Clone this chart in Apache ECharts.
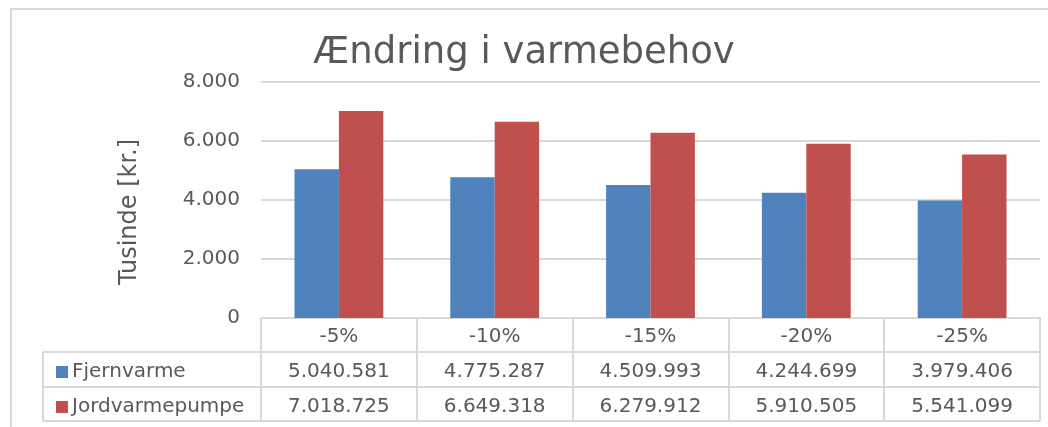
<!DOCTYPE html>
<html>
<head>
<meta charset="utf-8">
<script src="https://cdn.jsdelivr.net/npm/echarts@6/dist/echarts.min.js"></script>
<style>
  html, body { margin: 0; padding: 0; background: #fff; }
  #chart { width: 1048px; height: 427px; }
</style>
</head>
<body>
<div id="chart"></div>
<script>
// data (kr.)
const categories = ['-5%', '-10%', '-15%', '-20%', '-25%']
const fjernvarme = [5040581, 4775287, 4509993, 4244699, 3979406]
const jordvarmepumpe = [7018725, 6649318, 6279912, 5910505, 5541099]
const seriesNames = ['Fjernvarme', 'Jordvarmepumpe']

const textColor = '#595959'
const lineColor = '#D9D9D9'
const font = 'DejaVu Sans'

// danish thousands separator
function fmt(v) {
  return String(Math.round(v)).replace(/\B(?=(\d{3})+(?!\d))/g, '.')
}

const chart = echarts.init(document.getElementById('chart'))

const option = {
  animation: false,
  textStyle: { fontFamily: font },
  title: {
    text: 'Ændring i varmebehov',
    left: 'center',
    top: 30,
    textStyle: { fontFamily: font, fontSize: 37, fontWeight: 'normal', color: textColor }
  },
  legend: {
    orient: 'vertical',
    left: 51,
    top: 357,
    itemWidth: 12,
    itemHeight: 12,
    itemGap: 15,
    icon: 'rect',
    data: seriesNames,
    textStyle: { fontFamily: font, fontSize: 20, lineHeight: 20, color: textColor, padding: [0, 0, 0, -1] },
    selectedMode: false
  },
  grid: {
    left: 261,
    right: 8,
    top: 82,
    bottom: 109
  },
  xAxis: {
    type: 'category',
    data: categories,
    axisLine: { show: true, lineStyle: { color: lineColor, width: 2 } },
    axisTick: { show: true, interval: 0, length: 103, lineStyle: { color: lineColor, width: 2 } },
    axisLabel: {
      interval: 0,
      margin: 1,
      fontFamily: font,
      fontSize: 20,
      lineHeight: 35,
      color: textColor,
      formatter: (val, idx) => [val, fmt(fjernvarme[idx]), fmt(jordvarmepumpe[idx])].join('\n')
    }
  },
  yAxis: {
    type: 'value',
    min: 0,
    max: 8000000,
    interval: 2000000,
    name: 'Tusinde [kr.]',
    nameLocation: 'middle',
    nameGap: 119,
    nameTextStyle: { fontFamily: font, fontSize: 24, color: textColor, padding: [0, 24, 0, 0] },
    axisLine: { show: false },
    axisTick: { show: false },
    axisLabel: {
      margin: 21,
      fontFamily: font,
      fontSize: 20,
      color: textColor,
      formatter: v => fmt(v / 1000)
    },
    splitLine: { lineStyle: { color: lineColor, width: 2 } }
  },
  series: [
    {
      name: seriesNames[0],
      type: 'bar',
      data: fjernvarme,
      barGap: '0%',
      barCategoryGap: '43%',
      itemStyle: { color: '#4F81BD' }
    },
    {
      name: seriesNames[1],
      type: 'bar',
      data: jordvarmepumpe,
      itemStyle: { color: '#C0504D' }
    }
  ],
  graphic: [
    // outer chart frame
    { type: 'rect', silent: true, z: -1, shape: { x: 11, y: 9, width: 1060, height: 440 },
      style: { fill: 'none', stroke: lineColor, lineWidth: 2 } },
    // data table rows
    { type: 'line', silent: true, shape: { x1: 43, y1: 352, x2: 1040, y2: 352 }, style: { stroke: lineColor, lineWidth: 2 } },
    { type: 'line', silent: true, shape: { x1: 43, y1: 387, x2: 1040, y2: 387 }, style: { stroke: lineColor, lineWidth: 2 } },
    { type: 'line', silent: true, shape: { x1: 43, y1: 421, x2: 1040, y2: 421 }, style: { stroke: lineColor, lineWidth: 2 } },
    { type: 'line', silent: true, shape: { x1: 43, y1: 352, x2: 43, y2: 421 }, style: { stroke: lineColor, lineWidth: 2 } }
  ]
}

chart.setOption(option)
</script>
</body>
</html>
